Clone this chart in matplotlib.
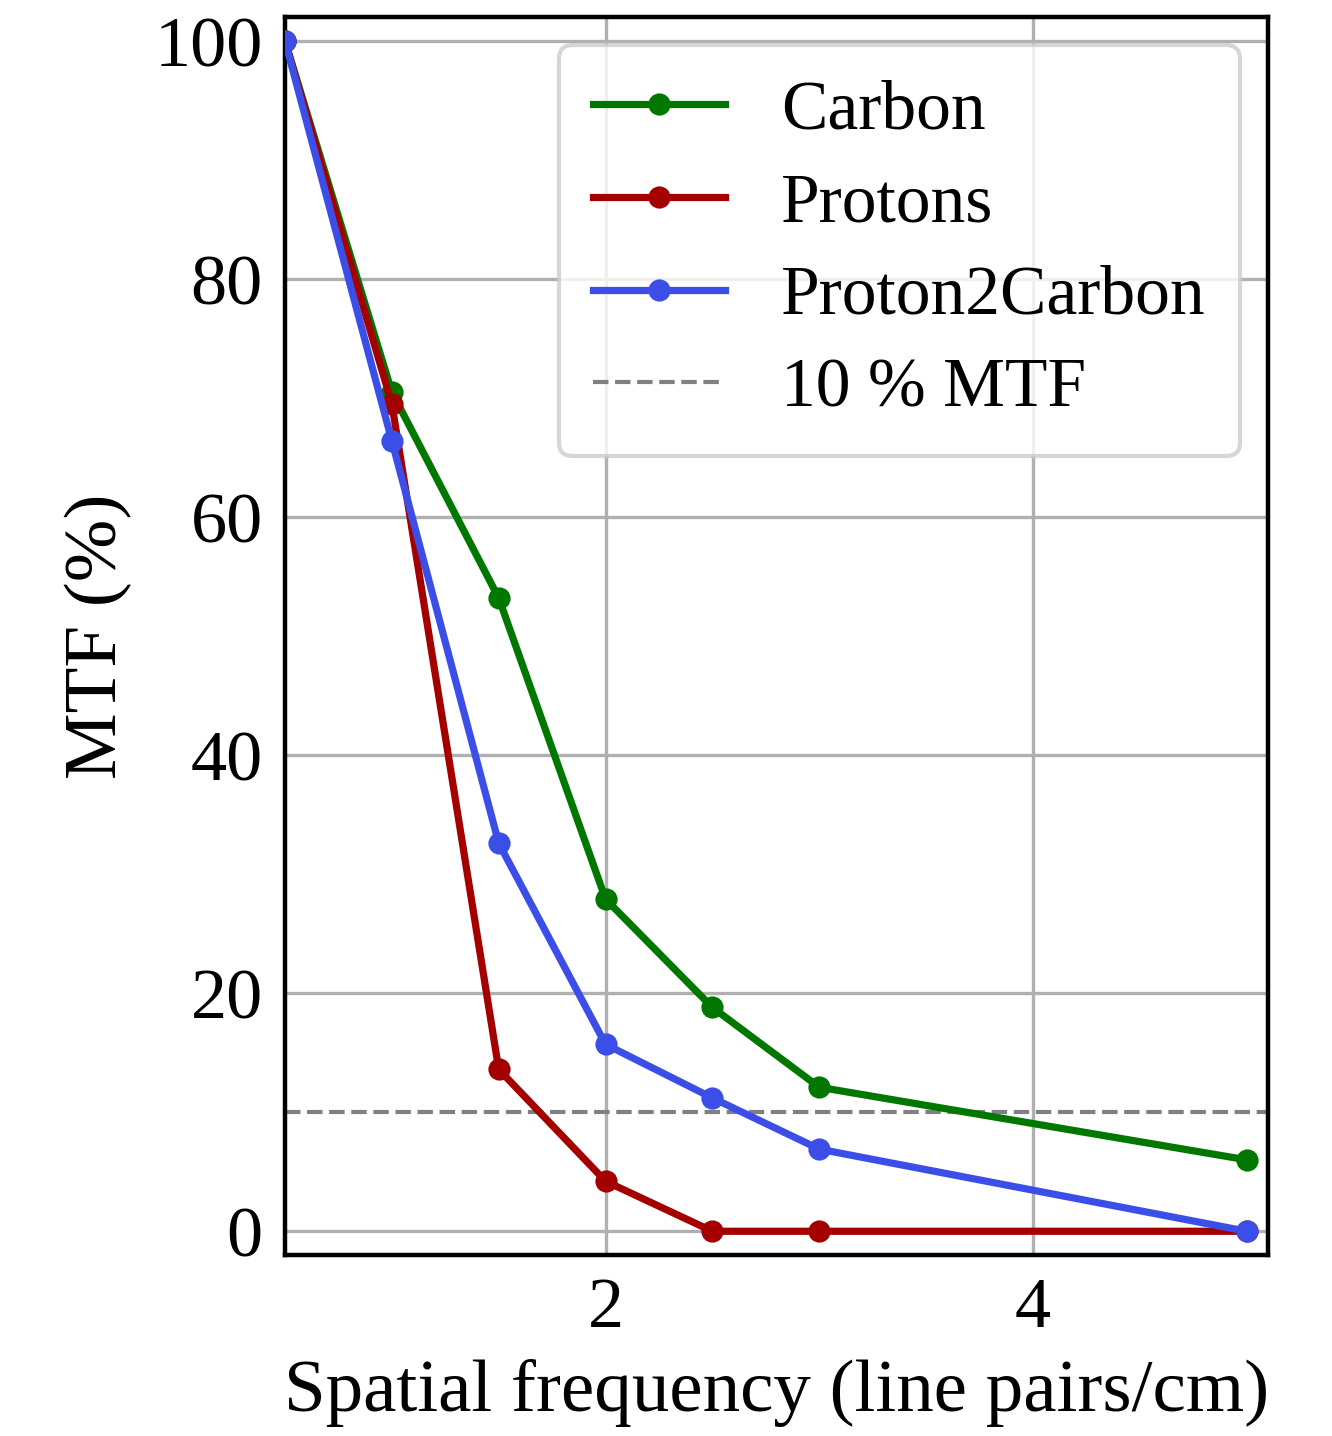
import matplotlib.pyplot as plt
import numpy as np

plt.rcParams['font.family'] = ['Liberation Serif', 'DejaVu Serif']
plt.rcParams['mathtext.fontset'] = 'stix'

freq = [0.5, 1.0, 1.5, 2.0, 2.5, 3.0, 5.0]
carbon = [100, 70.5, 53.2, 27.9, 18.8, 12.1, 6.0]
protons = [100, 69.5, 13.6, 4.2, 0, 0, 0]
p2c = [100, 66.4, 32.6, 15.7, 11.2, 6.9, 0]
mtf10 = 10

fig = plt.figure(figsize=(6.66, 7.18), dpi=200)
ax = fig.add_axes([0.214, 0.126, 0.738, 0.862])

ax.grid(True, color='#b0b0b0', lw=1.2, zorder=0)
ax.set_axisbelow(True)

ax.plot(freq, carbon, '-o', color='#007800', lw=2.6, ms=7, label='Carbon', zorder=3)
ax.plot(freq, protons, '-o', color='#a50000', lw=2.6, ms=7, label='Protons', zorder=3)
ax.plot(freq, p2c, '-o', color='#3b4fe8', lw=2.6, ms=7, label='Proton2Carbon', zorder=4)
ax.axhline(mtf10, color='gray', ls='--', lw=1.5, label='10 % MTF', zorder=2)

ax.set_xlim(0.5, 5.1)
ax.set_ylim(-2, 102)
ax.set_xticks([2, 4])
ax.set_yticks([0, 20, 40, 60, 80, 100])
ax.tick_params(length=0, labelsize=26, pad=8)
for s in ax.spines.values():
    s.set_linewidth(1.6)
    s.set_color('black')

ax.set_xlabel('Spatial frequency (line pairs/cm)', fontsize=27, labelpad=6)
ax.set_ylabel('MTF (%)', fontsize=27, labelpad=8)

leg = ax.legend(loc='upper right', fontsize=25, handlelength=1.9, borderpad=0.5,
                labelspacing=0.42, handletextpad=0.8, framealpha=0.8,
                fancybox=True, borderaxespad=0.4)
leg.get_frame().set_edgecolor('#cccccc')
leg.get_frame().set_linewidth(1.5)

fig.savefig('out.png', dpi=200)
